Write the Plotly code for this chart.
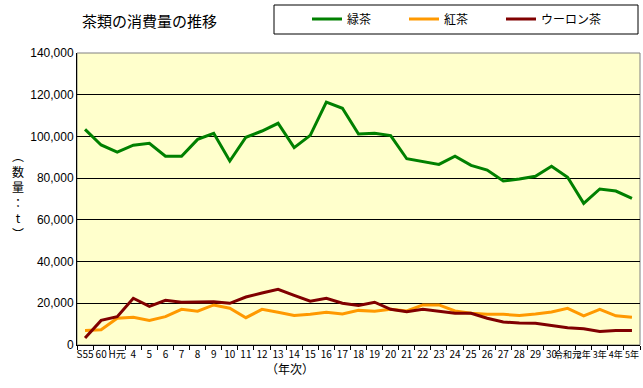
import plotly.graph_objects as go

categories = ["S55", "60", "H元"] + [str(i) for i in range(4, 31)] + ["令和元", "2年", "3年", "4年", "5年"]

green_tea = [103400, 95900, 92500, 95800, 96700, 90500, 90500, 98600, 101500, 88200,
             99600, 102600, 106300, 94600, 100500, 116400, 113500, 101200, 101500, 100400,
             89300, 88100, 86600, 90500, 86100, 83900, 78600, 79600, 80900, 85700,
             80400, 67900, 74800, 73800, 70300]
black_tea = [7000, 7300, 12800, 13300, 11800, 13600, 17100, 16200, 19200, 17600,
             13100, 17100, 15700, 14200, 14700, 15700, 14900, 16600, 16200, 17100,
             16300, 19200, 19200, 16300, 15200, 14700, 14700, 14200, 14900, 15800,
             17600, 14000, 17100, 14000, 13300]
oolong_tea = [3400, 11800, 13600, 22400, 18500, 21400, 20500, 20500, 20700, 20000,
              23000, 24900, 26700, 23800, 21000, 22400, 20000, 19000, 20500, 17100,
              16000, 17100, 16200, 15200, 15200, 12800, 11000, 10500, 10400, 9300,
              8300, 7800, 6500, 7000, 7000]

series = [("緑茶", green_tea, "#008000", "legend", 307),
          ("紅茶", black_tea, "#FF9900", "legend2", 404),
          ("ウーロン茶", oolong_tea, "#800000", "legend3", 501)]

font_jp = "Noto Sans CJK JP"
font_num = "Liberation Sans"
W, H = 643, 388

fig = go.Figure()
legends = {}
for name, vals, col, lg, lx in series:
    fig.add_trace(go.Scatter(x=categories, y=vals, name=name, mode="lines",
                             line=dict(color=col, width=3), legend=lg))
    legends[lg] = dict(xref="container", yref="container",
                       x=lx / W, y=1 - 19 / H, xanchor="left", yanchor="middle",
                       bgcolor="rgba(0,0,0,0)", borderwidth=0, itemwidth=30,
                       font=dict(family=font_jp, size=12, color="black"))

tick_text = [c if i < 30 else '<span style="font-size:9px">' + c + '</span>'
             for i, c in enumerate(categories)]

fig.update_layout(
    width=W, height=H,
    margin=dict(l=77, r=3, t=53, b=43, autoexpand=False),
    paper_bgcolor="white",
    plot_bgcolor="#FFFFCC",
    showlegend=True,
    xaxis=dict(type="category", showgrid=False, showline=True, linecolor="black",
               linewidth=1, ticks="outside", tickson="boundaries", ticklen=4,
               tickcolor="black", tickangle=0,
               tickmode="array", tickvals=categories, ticktext=tick_text,
               tickfont=dict(family=font_jp, size=10, color="black"),
               mirror=False, range=[-0.5, 34.5]),
    yaxis=dict(range=[0, 140000], dtick=20000, tickformat=",d",
               showgrid=True, gridcolor="black", gridwidth=1,
               showline=True, linecolor="black", linewidth=1, ticks="",
               tickfont=dict(family=font_num, size=12, color="black"),
               zeroline=False),
    shapes=[
        dict(type="rect", xref="paper", yref="paper", x0=0, x1=1, y0=0, y1=1,
             line=dict(color="#808080", width=1), layer="below"),
        dict(type="rect", xref="paper", yref="paper",
             x0=(274 - 77) / 563, x1=(638 - 77) / 563,
             y0=(345 - 34) / 292, y1=(345 - 5) / 292,
             line=dict(color="black", width=1)),
    ],
    annotations=[
        dict(text="茶類の消費量の推移", xref="paper", yref="paper",
             x=(80 - 77) / 563, y=(345 - 20) / 292, xanchor="left", yanchor="middle",
             showarrow=False, font=dict(family=font_jp, size=15, color="black")),
        dict(text="︵<br>数<br>量<br>：<br>t<br>︶", xref="paper", yref="paper",
             x=(18 - 77) / 563, y=(345 - 195) / 292, xanchor="center", yanchor="middle",
             showarrow=False, align="center",
             font=dict(family=font_jp, size=12, color="black")),
        dict(text="（年次）", xref="paper", yref="paper",
             x=(290 - 77) / 563, y=(345 - 369) / 292, xanchor="center", yanchor="middle",
             showarrow=False, font=dict(family=font_jp, size=12, color="black")),
    ],
    **legends,
)

fig.write_html("out.html", config={"displayModeBar": False},
               post_script="document.body.style.margin='0px';")
